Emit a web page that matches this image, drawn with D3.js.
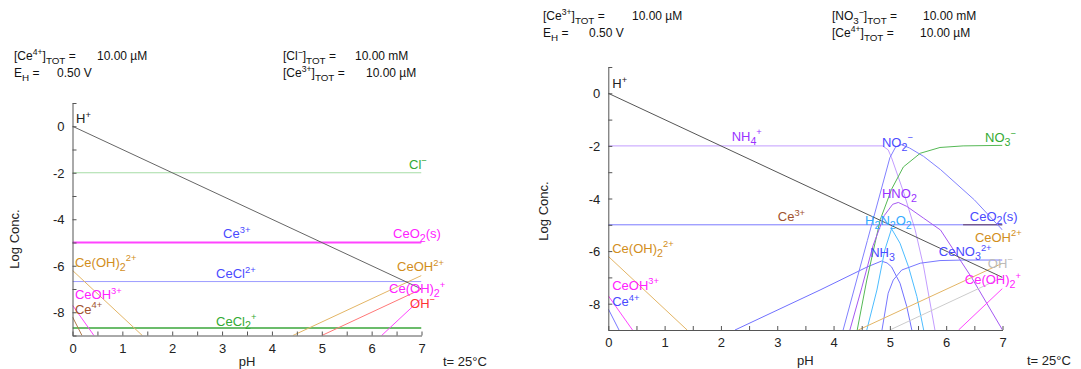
<!DOCTYPE html>
<html>
<head>
<meta charset="utf-8">
<script src="https://cdn.jsdelivr.net/npm/d3@7"></script>
<style>
  body { margin: 0; background: #fff; }
  svg text { font-family: "Liberation Sans", Arial, sans-serif; }
</style>
</head>
<body>
<svg id="chart" width="1081" height="369"></svg>
<script>
// axis ticks
const phTicks = d3.range(0, 7.01, 0.5);
const phLabels = [0, 1, 2, 3, 4, 5, 6, 7];
const logTicks = d3.range(-9, 1.01, 1);
const logLabels = [0, -2, -4, -6, -8];

// ---- left diagram (Ce / Cl) : [pH, log conc]
const hPlusL = [[0, 0], [7, -7]];
const clMinusL = [[0, -2], [7, -2]];
const ce3L = [[0, -5], [7, -5]];
const ceO2L = [[0, -5], [7, -5]];
const ceClL = [[0, -6.68], [7, -6.68]];
const ceCl2L = [[0, -8.68], [7, -8.68]];
const ceOH2_2L = [[0, -6.2], [1.4, -9]];
const ceOH3L = [[0, -7.7], [0.43, -9]];
const ce4L = [[0, -8.2], [0.19, -9]];
const ceOH2L = [[4.42, -9], [7, -6.42]];
const ohL = [[5, -9], [7, -7]];
const ceOH2pL = [[6.2, -9], [7, -7.4]];

// ---- right diagram (Ce / NO3)
const hPlusR = [[0, 0], [7, -7]];
const nh4R = [[0, -2], [4.87, -2], [4.97, -2.15], [5.03, -2.45], [5.25, -3.8], [5.45, -5.2], [5.6, -6.6], [5.8, -9]];
const no2R = [[4.17, -9], [4.6, -5.6], [5.0, -2.45], [5.1, -2.05], [5.2, -1.95], [5.35, -2.08], [5.6, -2.4], [5.9, -2.9], [6.5, -4.05], [7, -5.2]];
const no3R = [[4.42, -9], [4.59, -7.1], [4.83, -4.8], [5.03, -3.65], [5.24, -2.8], [5.54, -2.28], [5.89, -2.06], [6.3, -2.0], [7, -1.98]];
const hno2R = [[4.29, -9], [4.5, -7.4], [4.7, -5.8], [4.9, -4.65], [5.05, -4.22], [5.15, -4.15], [5.3, -4.3], [5.6, -4.75], [5.9, -5.2], [6.45, -7.0], [7, -9]];
const h2n2o2R = [[4.59, -9], [4.77, -7.48], [4.91, -5.96], [5.03, -5.15], [5.18, -5.7], [5.33, -6.59], [5.48, -7.73], [5.6, -9]];
const nh3R = [[2.25, -9], [3.76, -7.48], [4.6, -6.6], [4.85, -6.38], [4.95, -6.45], [5.03, -6.6], [5.18, -7.22], [5.3, -8.11], [5.39, -9]];
const ceNO3R = [[4.86, -9], [4.97, -7.6], [5.06, -7.1], [5.21, -6.72], [5.54, -6.46], [5.89, -6.36], [6.3, -6.34], [7, -6.34]];
const ceO2R = [[0, -5], [7, -5]];
const ce3R = [[6.3, -5], [7, -5]];
const ceOH2_2R = [[0, -6.2], [1.4, -9]];
const ceOH3R = [[0, -7.7], [0.43, -9]];
const ce4R = [[0, -8.2], [0.19, -9]];
const ceOH2R = [[4.44, -9], [7, -6.46]];
const ohR = [[5, -9], [7, -7]];
const ceOH2pR = [[6.22, -9], [7, -7.42]];

const svg = d3.select('#chart');

// text with _{sub} and ^{sup} parts
const richText = (sel, str, fs) => {
    const re = /([_^])\{([^}]*)\}|([^_^]+)/g;
    let m, cur = 0;
    while ((m = re.exec(str))) {
        let t, size, txt;
        if (m[3]) { t = 0; size = fs; txt = m[3]; }
        else if (m[1] === '_') { t = fs * 0.3; size = fs * 0.82; txt = m[2]; }
        else { t = -fs * 0.42; size = fs * 0.72; txt = m[2]; }
        sel.append('tspan').attr('dy', t - cur).style('font-size', size + 'px').text(txt);
        cur = t;
    }
    return sel;
};

const drawPanel = (p) => {
    let x = d3.scaleLinear().domain([0, 7]).range([p.x0, p.x1]);
    let y = d3.scaleLinear().domain([-9, 1]).range([p.y1, p.y0]);
    let g = svg.append('g');

    // header
    p.header.forEach(h => {
        richText(g.append('text').attr('x', h[0]).attr('y', h[1]).attr('fill', '#111'), h[2], 12);
    });

    let clipId = 'clip' + p.id;
    g.append('clipPath').attr('id', clipId)
        .append('rect').attr('x', p.x0).attr('y', p.y0).attr('width', p.x1 - p.x0).attr('height', p.y1 - p.y0);

    let line = d3.line().x(d => x(d[0])).y(d => y(d[1]));
    let lines = g.append('g').attr('clip-path', `url(#${clipId})`);
    p.series.forEach(s => {
        lines.append('path')
            .datum(s.data)
            .attr('d', line)
            .attr('fill', 'none')
            .attr('stroke', s.color)
            .attr('stroke-width', s.width || 1);
    });

    // axes
    let xAxis = g.append('g')
        .attr('transform', `translate(0,${p.y1})`)
        .call(d3.axisBottom(x).tickValues(phTicks).tickSizeInner(-4).tickSizeOuter(0)
            .tickPadding(8).tickFormat(d => phLabels.includes(d) ? d : ''));
    let yAxis = g.append('g')
        .attr('transform', `translate(${p.x0},0)`)
        .call(d3.axisLeft(y).tickValues(logTicks).tickSizeInner(-4).tickSizeOuter(0)
            .tickPadding(8).tickFormat(d => logLabels.includes(d) ? String(d).replace('\u2212', '-') : ''));
    [xAxis, yAxis].forEach(a => {
        a.select('.domain').attr('stroke', '#555');
        a.selectAll('.tick line').attr('stroke', '#555');
        a.selectAll('.tick text').attr('fill', '#222').style('font-size', '13px')
            .style('font-family', '"Liberation Sans", Arial, sans-serif');
    });
    yAxis.selectAll('.tick text').attr('dy', '0.35em');

    g.append('text')
        .attr('text-anchor', 'middle')
        .attr('x', (p.x0 + p.x1) / 2).attr('y', p.phY)
        .style('font-size', '13px').attr('fill', '#222')
        .text('pH');
    g.append('text')
        .attr('text-anchor', 'middle')
        .attr('transform', `translate(${p.logX},${p.logY})rotate(-90)`)
        .style('font-size', '13px').attr('fill', '#222')
        .text('Log Conc.');
    g.append('text')
        .attr('x', p.tX).attr('y', p.phY)
        .style('font-size', '13px').attr('fill', '#222')
        .text('t= 25°C');

    // species labels
    p.labels.forEach(l => {
        richText(g.append('text').attr('x', x(l.at[0])).attr('y', y(l.at[1])).attr('fill', l.color), l.text, 13);
    });
};

const ORANGE = '#e3b565', ORANGE_T = '#d28e1c';
const MAG = '#ff44ff', MAG_T = '#ff22ff';
const BLUE_T = '#4a4aff';

drawPanel({
    id: 'L', x0: 72.5, x1: 421.5, y0: 103, y1: 335.5,
    phY: 366, tX: 443, logX: 19, logY: 239,
    header: [
        [14, 60, '[Ce^{4+}]_{TOT} ='], [97, 60, '10.00 µM'],
        [14, 77, 'E_{H} ='], [57, 77, '0.50 V'],
        [283, 60, '[Cl^{\u2212}]_{TOT} ='], [355, 60, '10.00 mM'],
        [283, 77, '[Ce^{3+}]_{TOT} ='], [366, 77, '10.00 µM']
    ],
    series: [
        { data: clMinusL, color: '#a6dca6' },
        { data: ce3L, color: '#6a6aff' },
        { data: ceO2L, color: MAG, width: 2 },
        { data: ceClL, color: '#9d9dff' },
        { data: ceCl2L, color: '#3aa63a', width: 1.5 },
        { data: ceOH2_2L, color: ORANGE },
        { data: ceOH3L, color: MAG },
        { data: ce4L, color: '#b07a4a' },
        { data: ceOH2L, color: ORANGE },
        { data: ohL, color: '#ff7777' },
        { data: ceOH2pL, color: MAG },
        { data: hPlusL, color: '#666' }
    ],
    labels: [
        { text: 'H^{+}', at: [0.07, 0.14], color: '#222' },
        { text: 'Cl^{\u2212}', at: [6.75, -1.84], color: '#33aa33' },
        { text: 'Ce^{3+}', at: [3.02, -4.81], color: BLUE_T },
        { text: 'CeO_{2}(s)', at: [6.43, -4.81], color: MAG_T },
        { text: 'CeOH^{2+}', at: [6.51, -6.23], color: ORANGE_T },
        { text: 'CeCl^{2+}', at: [2.88, -6.53], color: BLUE_T },
        { text: 'Ce(OH)_{2}^{+}', at: [6.35, -7.18], color: MAG_T },
        { text: 'OH^{\u2212}', at: [6.77, -7.82], color: '#ff3333' },
        { text: 'CeCl_{2}^{+}', at: [2.88, -8.57], color: '#33aa33' },
        { text: 'Ce(OH)_{2}^{2+}', at: [0.05, -6.05], color: ORANGE_T },
        { text: 'CeOH^{3+}', at: [0.05, -7.43], color: MAG_T },
        { text: 'Ce^{4+}', at: [0.05, -8.06], color: '#a0522d' }
    ]
});

drawPanel({
    id: 'R', x0: 608.3, x1: 1002.5, y0: 67, y1: 330,
    phY: 365, tX: 1027, logX: 548, logY: 211,
    header: [
        [543, 20, '[Ce^{3+}]_{TOT} ='], [632, 20, '10.00 µM'],
        [543, 37, 'E_{H} ='], [589, 37, '0.50 V'],
        [832, 20, '[NO_{3}^{\u2212}]_{TOT} ='], [923, 20, '10.00 mM'],
        [832, 37, '[Ce^{4+}]_{TOT} ='], [920, 37, '10.00 µM']
    ],
    series: [
        { data: nh4R, color: '#c29cff' },
        { data: ceO2R, color: '#7a7aff' },
        { data: ce3R, color: '#603a60' },
        { data: ceOH2_2R, color: ORANGE },
        { data: ceOH3R, color: MAG },
        { data: ce4R, color: '#7a7aff' },
        { data: nh3R, color: '#7070ff' },
        { data: no2R, color: '#8080ff' },
        { data: no3R, color: '#55b855' },
        { data: hno2R, color: '#a558f2' },
        { data: h2n2o2R, color: '#4cbcff' },
        { data: ceNO3R, color: '#7777ff' },
        { data: ceOH2R, color: ORANGE },
        { data: ohR, color: '#cccccc' },
        { data: ceOH2pR, color: MAG },
        { data: hPlusR, color: '#555' }
    ],
    labels: [
        { text: 'H^{+}', at: [0.07, 0.2], color: '#222' },
        { text: 'NH_{4}^{+}', at: [2.19, -1.81], color: '#9933ff' },
        { text: 'Ce^{3+}', at: [3.01, -4.86], color: '#a0522d' },
        { text: 'Ce(OH)_{2}^{2+}', at: [0.07, -6.07], color: ORANGE_T },
        { text: 'CeOH^{3+}', at: [0.07, -7.47], color: MAG_T },
        { text: 'Ce^{4+}', at: [0.07, -8.1], color: BLUE_T },
        { text: 'NO_{2}^{\u2212}', at: [4.86, -2.03], color: BLUE_T },
        { text: 'NO_{3}^{\u2212}', at: [6.69, -1.86], color: '#33aa33' },
        { text: 'HNO_{2}', at: [4.86, -3.99], color: '#9933ff' },
        { text: 'CeO_{2}(s)', at: [6.42, -4.84], color: BLUE_T },
        { text: 'H_{2}N_{2}O_{2}', at: [4.56, -5.01], color: '#33aaff' },
        { text: 'CeOH^{2+}', at: [6.51, -5.64], color: ORANGE_T },
        { text: 'NH_{3}', at: [4.65, -6.24], color: BLUE_T },
        { text: 'CeNO_{3}^{2+}', at: [5.87, -6.19], color: BLUE_T },
        { text: 'OH^{\u2212}', at: [6.74, -6.65], color: '#bbbbbb' },
        { text: 'Ce(OH)_{2}^{+}', at: [6.33, -7.25], color: MAG_T }
    ]
});
</script>
</body>
</html>
